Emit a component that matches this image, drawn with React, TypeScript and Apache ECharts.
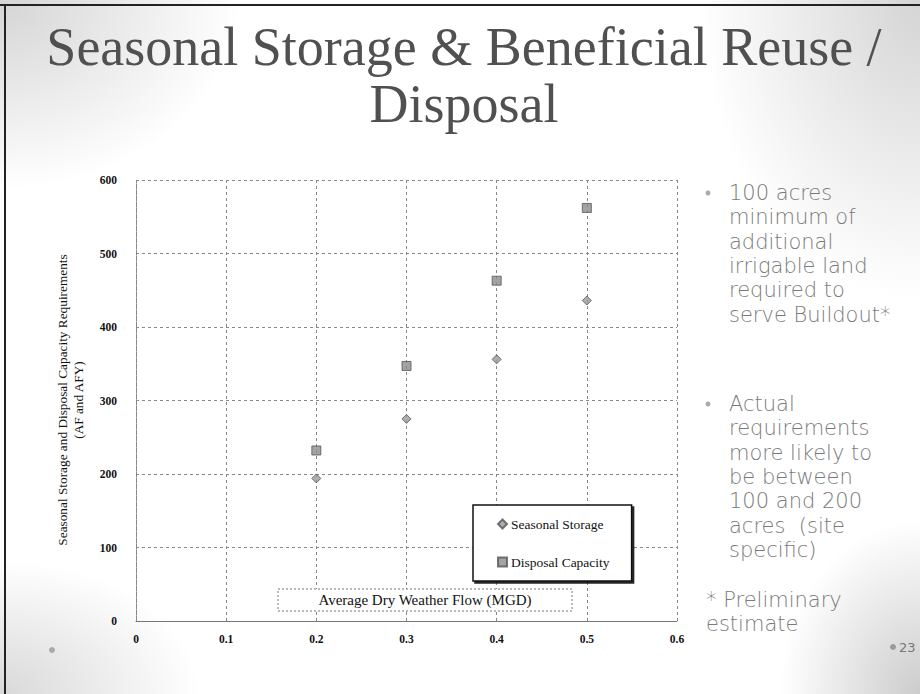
import React, { useEffect, useRef } from "react";
import * as echarts from "echarts";

const flowMGD = [0.2, 0.3, 0.4, 0.5];
const seasonalStorage = [194, 275, 356, 436];
const disposalCapacity = [232, 347, 463, 562];
const seriesNames = ["Seasonal Storage", "Disposal Capacity"];
const titleLines = ["Seasonal Storage & Beneficial Reuse /", "Disposal"];
const yAxisTitle = ["Seasonal Storage and Disposal Capacity Requirements", "(AF and AFY)"];
const xAxisTitle = "Average Dry Weather Flow (MGD)";
const bullet1 = ["100 acres", "minimum of", "additional", "irrigable land", "required to", "serve Buildout*"];
const bullet2 = ["Actual", "requirements", "more likely to", "be between", "100 and 200", "acres  (site", "specific)"];
const footnote = ["* Preliminary", "estimate"];
const pageNumber = "23";

const SERIF = "'Liberation Serif', 'DejaVu Serif', serif";
const SANS = "'DejaVu Sans', 'Noto Sans', sans-serif";

export default function App() {
  const ref = useRef<HTMLDivElement>(null);
  useEffect(() => {
    if (!ref.current) return;
    const chart = echarts.init(ref.current, undefined, { renderer: "svg" });
    const lh = 24.3;
    const option: any = {
      animation: false,
      backgroundColor: "#ffffff",
      grid: { left: 136, top: 180, width: 541, height: 441 },
      xAxis: {
        type: "value",
        min: 0,
        max: 0.6,
        interval: 0.1,
        axisLine: { show: true, lineStyle: { color: "#777", width: 1 } },
        axisTick: { show: false },
        axisLabel: {
          margin: 12,
          color: "#111",
          fontFamily: SERIF,
          fontWeight: "bold",
          fontSize: 11.5,
          formatter: (v: number) => (v === 0 ? "0" : v.toFixed(1)),
        },
        splitLine: { show: true, lineStyle: { color: "#888", type: [3, 3], width: 1 } },
      },
      yAxis: {
        type: "value",
        min: 0,
        max: 600,
        interval: 100,
        axisLine: { show: true, lineStyle: { color: "#888", type: [2, 1], width: 1 } },
        axisTick: { show: false },
        axisLabel: {
          margin: 19,
          color: "#111",
          fontFamily: SERIF,
          fontWeight: "bold",
          fontSize: 11.5,
        },
        splitLine: { show: true, lineStyle: { color: "#888", type: [3, 3], width: 1 } },
      },
      legend: {
        orient: "vertical",
        left: 473,
        top: 505,
        padding: [12, 22, 12, 24],
        itemGap: 24,
        itemWidth: 9,
        itemHeight: 9,
        backgroundColor: "#fff",
        borderColor: "#111",
        borderWidth: 1.5,
        shadowColor: "rgba(0,0,0,0.85)",
        shadowOffsetX: 2,
        shadowOffsetY: 2,
        shadowBlur: 0,
        textStyle: { fontFamily: SERIF, fontSize: 13.5, color: "#111", padding: [0, 0, 0, -1] },
        data: [
          { name: seriesNames[0], icon: "diamond" },
          { name: seriesNames[1], icon: "rect" },
        ],
      },
      series: [
        {
          name: seriesNames[0],
          type: "scatter",
          symbol: "diamond",
          symbolSize: 9,
          itemStyle: { color: "#9a9a9a", borderColor: "#555", borderWidth: 1 },
          data: flowMGD.map((x, i) => [x, seasonalStorage[i]]),
          z: 5,
        },
        {
          name: seriesNames[1],
          type: "scatter",
          symbol: "rect",
          symbolSize: 9,
          itemStyle: { color: "#8c8c8c", borderColor: "#555", borderWidth: 1 },
          data: flowMGD.map((x, i) => [x, disposalCapacity[i]]),
          z: 5,
        },
      ],
      graphic: [
        // corner textures
        {
          type: "rect", silent: true, z: -10,
          shape: { x: 0, y: 0, width: 240, height: 190 },
          style: { fill: new echarts.graphic.RadialGradient(0, 0, 1, [
            { offset: 0, color: "rgba(170,170,170,0.5)" },
            { offset: 1, color: "rgba(170,170,170,0)" },
          ]) },
        },
        {
          type: "rect", silent: true, z: -10,
          shape: { x: 700, y: 0, width: 220, height: 300 },
          style: { fill: new echarts.graphic.RadialGradient(1, 0, 1, [
            { offset: 0, color: "rgba(170,170,170,0.5)" },
            { offset: 1, color: "rgba(170,170,170,0)" },
          ]) },
        },
        {
          type: "rect", silent: true, z: -10,
          shape: { x: 0, y: 560, width: 200, height: 134 },
          style: { fill: new echarts.graphic.RadialGradient(0, 1, 1, [
            { offset: 0, color: "rgba(170,170,170,0.45)" },
            { offset: 1, color: "rgba(170,170,170,0)" },
          ]) },
        },
        {
          type: "rect", silent: true, z: -10,
          shape: { x: 780, y: 520, width: 140, height: 174 },
          style: { fill: new echarts.graphic.RadialGradient(1, 1, 1, [
            { offset: 0, color: "rgba(170,170,170,0.6)" },
            { offset: 1, color: "rgba(170,170,170,0)" },
          ]) },
        },
        // frame lines
        { type: "line", silent: true, shape: { x1: 0, y1: 5, x2: 920, y2: 5 }, style: { stroke: "#222", lineWidth: 2 } },
        { type: "line", silent: true, shape: { x1: 5, y1: 5, x2: 5, y2: 694 }, style: { stroke: "#222", lineWidth: 2 } },
        // title
        {
          type: "text", silent: true,
          style: {
            x: 464, y: 47, text: titleLines[0], align: "center", verticalAlign: "middle",
            fontFamily: SERIF, fontSize: 54, fill: "#505050",
          },
        },
        {
          type: "text", silent: true,
          style: {
            x: 464, y: 104, text: titleLines[1], align: "center", verticalAlign: "middle",
            fontFamily: SERIF, fontSize: 54, fill: "#505050",
          },
        },
        // y axis title
        {
          type: "text", silent: true, x: 70, y: 400, rotation: Math.PI / 2,
          style: {
            x: 0, y: 0, text: yAxisTitle.join("\n"), align: "center", verticalAlign: "middle",
            fontFamily: SERIF, fontSize: 13.3, lineHeight: 16, fill: "#111",
          },
        },
        // x axis title box
        {
          type: "rect", silent: true, z: 20,
          shape: { x: 278, y: 589, width: 294, height: 22 },
          style: { fill: "#fff", stroke: "#777", lineWidth: 1, lineDash: [2, 2] },
        },
        {
          type: "text", silent: true, z: 21,
          style: {
            x: 425, y: 600, text: xAxisTitle, align: "center", verticalAlign: "middle",
            fontFamily: SERIF, fontSize: 15, fill: "#111",
          },
        },
        // right-hand bullets
        { type: "circle", silent: true, shape: { cx: 708, cy: 193, r: 2.5 }, style: { fill: "#aaa" } },
        {
          type: "text", silent: true,
          style: {
            x: 729, y: 193 - lh / 2, text: bullet1.join("\n"), align: "left", verticalAlign: "top",
            fontFamily: SANS, fontWeight: 200, fontSize: 21, lineHeight: lh, fill: "#7a7a7a",
          },
        },
        { type: "circle", silent: true, shape: { cx: 708, cy: 404, r: 2.5 }, style: { fill: "#aaa" } },
        {
          type: "text", silent: true,
          style: {
            x: 729, y: 404 - lh / 2, text: bullet2.join("\n"), align: "left", verticalAlign: "top",
            fontFamily: SANS, fontWeight: 200, fontSize: 21, lineHeight: lh, fill: "#7a7a7a",
          },
        },
        {
          type: "text", silent: true,
          style: {
            x: 706, y: 600 - lh / 2, text: footnote.join("\n"), align: "left", verticalAlign: "top",
            fontFamily: SANS, fontWeight: 200, fontSize: 21, lineHeight: lh, fill: "#7a7a7a",
          },
        },
        // page number and ornament
        { type: "circle", silent: true, shape: { cx: 893, cy: 647, r: 3 }, style: { fill: "#999" } },
        {
          type: "text", silent: true,
          style: {
            x: 899, y: 647, text: pageNumber, align: "left", verticalAlign: "middle",
            fontFamily: SANS, fontSize: 13, fill: "#777",
          },
        },
        { type: "circle", silent: true, shape: { cx: 52, cy: 650, r: 3 }, style: { fill: "#aaa" } },
      ],
    };
    chart.setOption(option);
    return () => chart.dispose();
  }, []);
  return (
    <div
      ref={ref}
      style={{ position: "fixed", left: 0, top: 0, width: 920, height: 694, background: "#fff" }}
    />
  );
}
